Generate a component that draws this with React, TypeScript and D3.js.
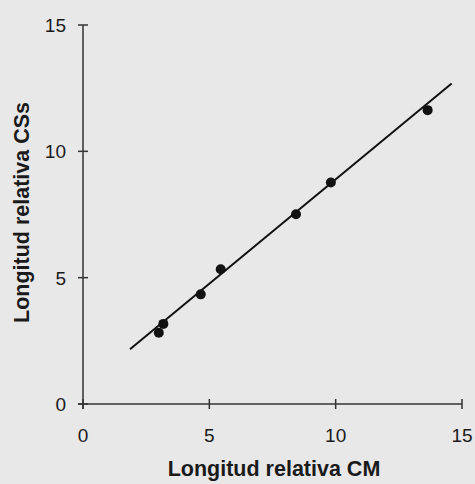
import React from "react";
import * as d3 from "d3";

const xValues = [3.0, 3.18, 4.66, 5.45, 8.43, 9.81, 13.64];
const yValues = [2.82, 3.17, 4.34, 5.33, 7.51, 8.77, 11.63];
const fitX = [1.86, 14.59];
const fitSlope = 0.826;
const fitIntercept = 0.63;
const xTicks = [0, 5, 10, 15];
const yTicks = [0, 5, 10, 15];
const xTitle = "Longitud relativa CM";
const yTitle = "Longitud relativa CSs";

export default function App() {
  const W = 475, H = 484;
  const x = d3.scaleLinear().domain([0, 15]).range([83, 462]);
  const y = d3.scaleLinear().domain([0, 15]).range([404, 25]);
  const font = "Arial, 'Liberation Sans', sans-serif";
  const ink = "#1a1a1a";
  const line = d3.line<number>().x((v) => x(v)).y((v) => y(fitSlope * v + fitIntercept));
  return (
    <svg width={W} height={H} style={{ position: "absolute", left: 0, top: 0, background: "#e8e8e8" }}>
      <rect width={W} height={H} fill="#e8e8e8" />
      {/* axes */}
      <line x1={x(0)} x2={x(0)} y1={y(15)} y2={y(0) + 5} stroke="#333" strokeWidth={1.5} />
      <line x1={x(0) - 5} x2={x(15)} y1={y(0)} y2={y(0)} stroke="#333" strokeWidth={1.5} />
      {yTicks.map((t) => (
        <g key={"y" + t}>
          <line x1={x(0) - 5} x2={x(0) + 5} y1={y(t)} y2={y(t)} stroke="#333" strokeWidth={1.5} />
          <text x={66} y={y(t)} dy="0.36em" textAnchor="end" fontFamily={font} fontSize={19} fill={ink}>{t}</text>
        </g>
      ))}
      {xTicks.map((t) => (
        <g key={"x" + t}>
          <line x1={x(t)} x2={x(t)} y1={y(0) - 5} y2={y(0) + 5} stroke="#333" strokeWidth={1.5} />
          <text x={x(t)} y={442} textAnchor="middle" fontFamily={font} fontSize={19} fill={ink}>{t}</text>
        </g>
      ))}
      <text x={274} y={476} textAnchor="middle" fontFamily={font} fontSize={21.5} fontWeight="bold" fill={ink}>{xTitle}</text>
      <text transform={`translate(28.5,212.5) rotate(-90)`} textAnchor="middle" fontFamily={font} fontSize={21.5} fontWeight="bold" fill={ink}>{yTitle}</text>
      <path d={line(fitX) || ""} stroke="#111" strokeWidth={2} fill="none" />
      {xValues.map((v, i) => (
        <circle key={i} cx={x(v)} cy={y(yValues[i])} r={5} fill="#111" />
      ))}
    </svg>
  );
}
